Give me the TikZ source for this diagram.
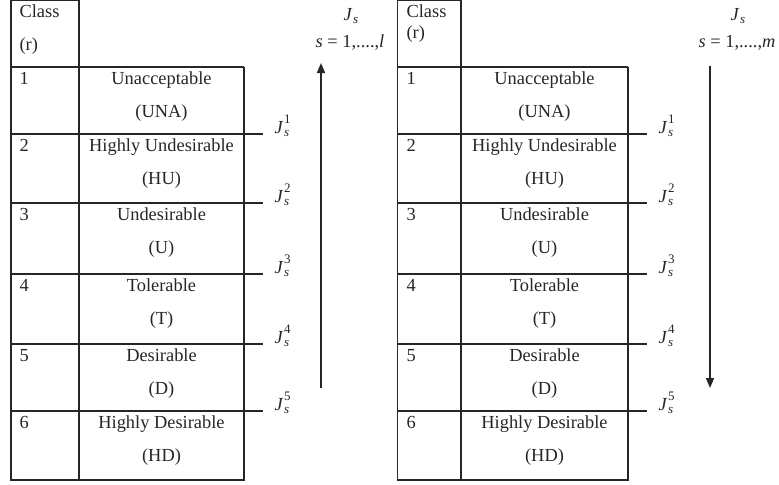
\documentclass[tikz,border=0pt]{standalone}
\usepackage{fontspec}
\setmainfont{Liberation Serif}
\usetikzlibrary{arrows.meta}
\newcommand{\scr}{\fontsize{6.5}{7}\selectfont}
\newcommand{\Jlab}[1]{\textit{J}\kern0.3pt\rlap{\raisebox{4.6pt}{\scr #1}}\raisebox{-1.6pt}{\scr\textit{s}}}
\tikzset{every path/.style={black!85,line width=0.6pt}, cell/.style={anchor=base,inner sep=0pt}, cellnum/.style={anchor=base west,inner sep=0pt}, jlabel/.style={anchor=base west,inner sep=0pt}}

\begin{document}
\begin{tikzpicture}[x=0.5pt,y=-0.5pt,font=\fontsize{9.2}{11}\selectfont]
       \useasboundingbox (0,0) rectangle (779,484);
       \begin{scope}
        \draw (11,0) -- (79,0);
        \draw (11,0) -- (11,480) -- (244,480) -- (244,67);
        \draw (79,0) -- (79,480);
        \draw (11,67) -- (244,67);
        \foreach \y in {134,203,274,344,411} \draw (11,\y) -- (263,\y);
        \node[cellnum] (uclass) at (19,17) {Class};
        \node[cellnum] (ur) at (19,50) {(r)};
        \foreach \top/\name/\abbr [count=\r] in {67/Unacceptable/UNA,134/Highly Undesirable/HU,203/Undesirable/U,274/Tolerable/T,344/Desirable/D,411/Highly Desirable/HD} {
          \node[cellnum] (unum\r) at (19,\top+17) {\r};
          \node[cell] (uname\r) at (161.5,\top+17) {\name};
          \node[cell] (uabbr\r) at (161.5,\top+50) {(\abbr)};
        }
        \foreach \y [count=\k] in {134,203,274,344,411} \node[jlabel] (uj\k) at (274,\y-1) {\Jlab{\k}};
        \node[cell] (ujs) at (351,20) {\Jlab{}};
        \node[cell] (urange) at (350,47) {\textit{s} = 1,....,\textit{l}};
        \coordinate (ubot) at (321,388);
        \coordinate (utop) at (321,63);
        \draw[line width=0.75pt,-{Triangle[width=4pt,length=5pt]}] (ubot) -- (utop);
       \end{scope}
       \begin{scope}
        \draw (397.5,0) -- (461,0);
        \draw (397.5,0) -- (397.5,480) -- (628,480) -- (628,67);
        \draw (461,0) -- (461,480);
        \draw (397.5,67) -- (628,67);
        \foreach \y in {134,203,274,344,411} \draw (397.5,\y) -- (647,\y);
        \node[cellnum] (dclass) at (406,17) {Class};
        \node[cellnum] (dr) at (406,38) {(r)};
        \foreach \top/\name/\abbr [count=\r] in {67/Unacceptable/UNA,134/Highly Undesirable/HU,203/Undesirable/U,274/Tolerable/T,344/Desirable/D,411/Highly Desirable/HD} {
          \node[cellnum] (dnum\r) at (406,\top+17) {\r};
          \node[cell] (dname\r) at (544.5,\top+17) {\name};
          \node[cell] (dabbr\r) at (544.5,\top+50) {(\abbr)};
        }
        \foreach \y [count=\k] in {134,203,274,344,411} \node[jlabel] (dj\k) at (658,\y-1) {\Jlab{\k}};
        \node[cell] (djs) at (738,20) {\Jlab{}};
        \node[cell] (drange) at (737,47) {\textit{s} = 1,....,\textit{m}};
        \coordinate (dtop) at (710,66);
        \coordinate (dbot) at (710,388);
        \draw[line width=0.75pt,-{Triangle[width=4pt,length=5pt]}] (dtop) -- (dbot);
       \end{scope}
      \end{tikzpicture}
\end{document}
